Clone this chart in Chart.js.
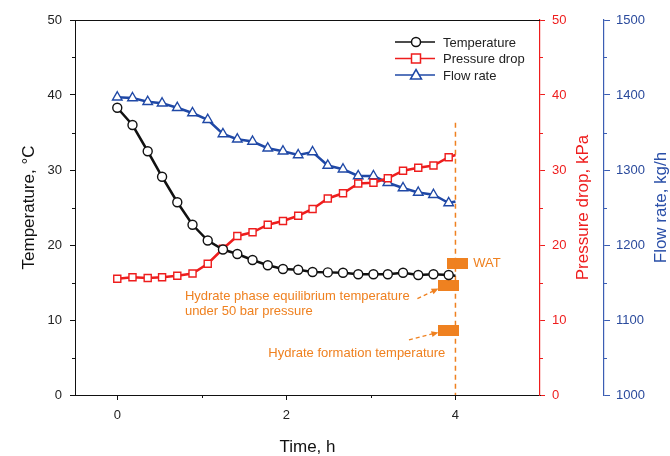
<!DOCTYPE html>
<html lang="en">
<head>
<meta charset="UTF-8">
<title>Temperature, pressure drop and flow rate</title>
<script src="https://cdn.jsdelivr.net/npm/chart.js@4/dist/chart.umd.min.js"></script>
<style>
  body { margin: 0; background: #ffffff; }
  #wrap { width: 670px; height: 456px; }
</style>
</head>
<body>
<div id="wrap"><canvas id="wax" width="670" height="456"></canvas></div>
<script>
// time of each logged point, h (last one is the end of the run, no marker)
const timeH = [0.00, 0.18, 0.36, 0.53, 0.71, 0.89, 1.07, 1.25, 1.42, 1.60, 1.78, 1.96,
               2.14, 2.31, 2.49, 2.67, 2.85, 3.03, 3.20, 3.38, 3.56, 3.74, 3.92, 4.00];
const temperature = [38.3, 36.0, 32.5, 29.1, 25.7, 22.7, 20.6, 19.4, 18.8, 18.0, 17.3, 16.8,
                     16.7, 16.4, 16.35, 16.3, 16.1, 16.1, 16.1, 16.3, 16.0, 16.1, 16.0, 15.9];
const pressureDrop = [15.5, 15.7, 15.6, 15.7, 15.9, 16.2, 17.5, 19.5, 21.2, 21.7, 22.7, 23.2,
                      23.9, 24.8, 26.2, 26.9, 28.2, 28.3, 28.9, 29.9, 30.3, 30.6, 31.7, 32.0];
const flowRate = [1397, 1396, 1391, 1389, 1383, 1376, 1367, 1348, 1341, 1338, 1329, 1325,
                  1320, 1324, 1306, 1301, 1292, 1292, 1283, 1276, 1270, 1267, 1256, 1258];

// characteristic temperatures at the end of the test
const markTime = [4.03, 3.92, 3.92];
const markTemp = [17.5, 14.55, 8.6];
const endTime = 4;
const endLineTop = 36.3;

// major ticks carry labels, minor ones get a short mark
const timeTicks = [0, 2, 4];
const timeMinor = [1, 3];
const tempTicks = [0, 10, 20, 30, 40, 50];
const tempMinor = [5, 15, 25, 35, 45];
const dpTicks = [0, 10, 20, 30, 40, 50];
const dpMinor = [5, 15, 25, 35, 45];
const flowTicks = [1000, 1100, 1200, 1300, 1400, 1500];
const flowMinor = [1050, 1150, 1250, 1350, 1450];

const BLACK = '#111111';
const RED = '#ee1d1d';
const BLUE = '#1f48a6';
const BLUE_AXIS = '#3b5db3';
const ORANGE = '#ef8120';
const FONT = 'Arial, "Liberation Sans", sans-serif';

Chart.defaults.font.family = FONT;

const pts = (xs, ys) => xs.map((x, i) => ({ x: x, y: ys[i] }));
const lastNoMarker = (n, r) => ctx => (ctx.dataIndex < n - 1 ? r : 0);
const plain = v => String(v);

// orange block used as the marker for the characteristic temperatures
const block = document.createElement('canvas');
block.width = 21;
block.height = 11;
const bctx = block.getContext('2d');
bctx.fillStyle = ORANGE;
bctx.fillRect(0, 0, 21, 11);

function fixTicks(values) {
    return axis => { axis.ticks = values.map(v => ({ value: v })); };
}

const annotations = {
    id: 'annotations',
    afterDatasetsDraw(chart) {
        const ctx = chart.ctx;
        const area = chart.chartArea;
        const x = chart.scales.x, y = chart.scales.y;
        const px = t => x.getPixelForValue(t);
        const py = v => y.getPixelForValue(v);

        ctx.save();
        // frame top
        ctx.strokeStyle = BLACK;
        ctx.lineWidth = 1;
        ctx.beginPath();
        ctx.moveTo(area.left, area.top + 0.5);
        ctx.lineTo(area.right, area.top + 0.5);
        ctx.stroke();

        // short minor tick marks
        const minor = (scale, values, dir, col) => {
            ctx.strokeStyle = col;
            ctx.lineWidth = 1;
            ctx.beginPath();
            values.forEach(v => {
                const p = Math.round(scale.getPixelForValue(v)) + 0.5;
                if (scale.isHorizontal()) {
                    ctx.moveTo(p, area.bottom);
                    ctx.lineTo(p, area.bottom + 3);
                } else {
                    const x0 = dir < 0 ? scale.right : scale.left;
                    ctx.moveTo(x0, p);
                    ctx.lineTo(x0 + dir * 3, p);
                }
            });
            ctx.stroke();
        };
        minor(x, timeMinor, 1, BLACK);
        minor(y, tempMinor, -1, BLACK);
        minor(chart.scales.y1, dpMinor, 1, RED);
        minor(chart.scales.y2, flowMinor, 1, BLUE_AXIS);

        // right-hand axis titles, read bottom to top
        const midY = (area.top + area.bottom) / 2;
        ctx.font = '17px ' + FONT;
        ctx.textAlign = 'center';
        ctx.textBaseline = 'middle';
        [[chart.scales.y1.right - 21, 'Pressure drop, kPa', RED],
         [chart.scales.y2.right - 9, 'Flow rate, kg/h', '#2a4fa8']].forEach(([tx, text, col]) => {
            ctx.save();
            ctx.translate(tx, midY);
            ctx.rotate(-Math.PI / 2);
            ctx.fillStyle = col;
            ctx.fillText(text, 0, 0);
            ctx.restore();
        });

        // labels of the orange markers
        ctx.fillStyle = ORANGE;
        ctx.font = '13px ' + FONT;
        ctx.textBaseline = 'middle';
        ctx.textAlign = 'left';
        ctx.fillText('WAT', px(4.21), py(markTemp[0]));
        ctx.fillText('Hydrate phase equilibrium temperature', px(0.80), py(13.2));
        ctx.fillText('under 50 bar pressure', px(0.80), py(11.2));
        ctx.textAlign = 'right';
        ctx.fillText('Hydrate formation temperature', px(3.88), py(5.6));

        const arrow = (t0, v0, t1, v1) => {
            const x0 = px(t0), y0 = py(v0), x1 = px(t1), y1 = py(v1);
            const a = Math.atan2(y1 - y0, x1 - x0);
            ctx.strokeStyle = ORANGE;
            ctx.lineWidth = 1.3;
            ctx.setLineDash([4, 3]);
            ctx.beginPath();
            ctx.moveTo(x0, y0);
            ctx.lineTo(x1 - 5 * Math.cos(a), y1 - 5 * Math.sin(a));
            ctx.stroke();
            ctx.setLineDash([]);
            ctx.beginPath();
            ctx.moveTo(x1, y1);
            ctx.lineTo(x1 - 7 * Math.cos(a) + 3 * Math.sin(a), y1 - 7 * Math.sin(a) - 3 * Math.cos(a));
            ctx.lineTo(x1 - 7 * Math.cos(a) - 3 * Math.sin(a), y1 - 7 * Math.sin(a) + 3 * Math.cos(a));
            ctx.closePath();
            ctx.fill();
        };
        arrow(3.55, 12.85, 3.80, 14.2);
        arrow(3.45, 7.35, 3.80, 8.35);

        // legend
        const rows = [
            { label: 'Temperature', color: BLACK, shape: 'circle' },
            { label: 'Pressure drop', color: RED, shape: 'rect' },
            { label: 'Flow rate', color: BLUE, shape: 'triangle' }
        ];
        const lx0 = area.right - 145, lx1 = area.right - 105, lm = area.right - 124;
        ctx.font = '13px ' + FONT;
        ctx.textAlign = 'left';
        rows.forEach((r, i) => {
            const ly = area.top + 22 + i * 16.5;
            ctx.strokeStyle = r.color;
            ctx.lineWidth = 1.5;
            ctx.beginPath();
            ctx.moveTo(lx0, ly);
            ctx.lineTo(lx1, ly);
            ctx.stroke();
            ctx.fillStyle = '#ffffff';
            ctx.beginPath();
            if (r.shape === 'circle') {
                ctx.arc(lm, ly, 4.5, 0, Math.PI * 2);
            } else if (r.shape === 'rect') {
                ctx.rect(lm - 4.5, ly - 4.5, 9, 9);
            } else {
                ctx.moveTo(lm, ly - 5.5);
                ctx.lineTo(lm + 5.5, ly + 4);
                ctx.lineTo(lm - 5.5, ly + 4);
                ctx.closePath();
            }
            ctx.fill();
            ctx.stroke();
            ctx.fillStyle = '#222222';
            ctx.fillText(r.label, area.right - 97, ly + 1);
        });
        ctx.restore();
    }
};

new Chart(document.getElementById('wax'), {
    type: 'line',
    data: {
        datasets: [
            {
                label: 'Temperature',
                data: pts(timeH, temperature),
                yAxisID: 'y',
                borderColor: BLACK,
                borderWidth: 2.5,
                pointStyle: 'circle',
                pointRadius: lastNoMarker(timeH.length, 4.5),
                pointBorderWidth: 1.4,
                pointBackgroundColor: '#ffffff',
                pointBorderColor: BLACK,
                tension: 0
            },
            {
                label: 'Pressure drop',
                data: pts(timeH, pressureDrop),
                yAxisID: 'y1',
                borderColor: RED,
                borderWidth: 2.5,
                pointStyle: 'rect',
                pointRadius: lastNoMarker(timeH.length, 5),
                pointBorderWidth: 1.4,
                pointBackgroundColor: '#ffffff',
                pointBorderColor: RED,
                tension: 0
            },
            {
                label: 'Flow rate',
                data: pts(timeH, flowRate),
                yAxisID: 'y2',
                borderColor: BLUE,
                borderWidth: 2.5,
                pointStyle: 'triangle',
                pointRadius: lastNoMarker(timeH.length, 5.5),
                pointBorderWidth: 1.4,
                pointBackgroundColor: '#ffffff',
                pointBorderColor: BLUE,
                tension: 0
            },
            {
                label: 'end of test',
                data: [{ x: endTime, y: endLineTop }, { x: endTime, y: 0 }],
                yAxisID: 'y',
                borderColor: ORANGE,
                borderWidth: 1.5,
                borderDash: [5, 4],
                pointRadius: 0
            },
            {
                label: 'characteristic temperatures',
                data: pts(markTime, markTemp),
                yAxisID: 'y',
                showLine: false,
                pointStyle: block,
                pointRadius: 5
            }
        ]
    },
    plugins: [annotations],
    options: {
        responsive: false,
        animation: false,
        devicePixelRatio: 1,
        layout: { padding: { top: 20, left: 0, right: 0, bottom: 0 } },
        plugins: { legend: { display: false }, tooltip: { enabled: false } },
        scales: {
            x: {
                type: 'linear',
                min: -0.5,
                max: 5,
                afterBuildTicks: fixTicks(timeTicks),
                afterFit: s => { s.height = 61; },
                border: { color: BLACK, width: 1 },
                grid: { drawOnChartArea: false, tickLength: 5, color: BLACK },
                ticks: { padding: 8, color: '#222222', font: { size: 13 }, callback: plain },
                title: {
                    display: true,
                    text: 'Time, h',
                    color: '#111111',
                    font: { size: 17, lineHeight: 1 },
                    padding: { top: 0, bottom: 0 }
                }
            },
            y: {
                position: 'left',
                min: 0,
                max: 50,
                afterBuildTicks: fixTicks(tempTicks),
                afterFit: s => { s.width = 75; },
                border: { color: BLACK, width: 1 },
                grid: { drawOnChartArea: false, tickLength: 5, color: BLACK },
                ticks: { padding: 8, color: '#222222', font: { size: 13 }, callback: plain },
                title: {
                    display: true,
                    text: 'Temperature, °C',
                    color: '#111111',
                    font: { size: 17, lineHeight: 1 },
                    padding: { top: 21, bottom: 0 }
                }
            },
            y1: {
                position: 'right',
                min: 0,
                max: 50,
                afterBuildTicks: fixTicks(dpTicks),
                afterFit: s => { s.width = 64; },
                border: { color: RED, width: 1.2 },
                grid: { drawOnChartArea: false, tickLength: 5, color: RED },
                ticks: { padding: 7, color: RED, font: { size: 13 }, callback: plain }
            },
            y2: {
                position: 'right',
                min: 1000,
                max: 1500,
                afterBuildTicks: fixTicks(flowTicks),
                afterFit: s => { s.width = 66; },
                border: { color: BLUE_AXIS, width: 1.2 },
                grid: { drawOnChartArea: false, tickLength: 6, color: BLUE_AXIS },
                ticks: { padding: 6, color: '#2a4a9c', font: { size: 13 }, callback: plain }
            }
        }
    }
});
</script>
</body>
</html>
